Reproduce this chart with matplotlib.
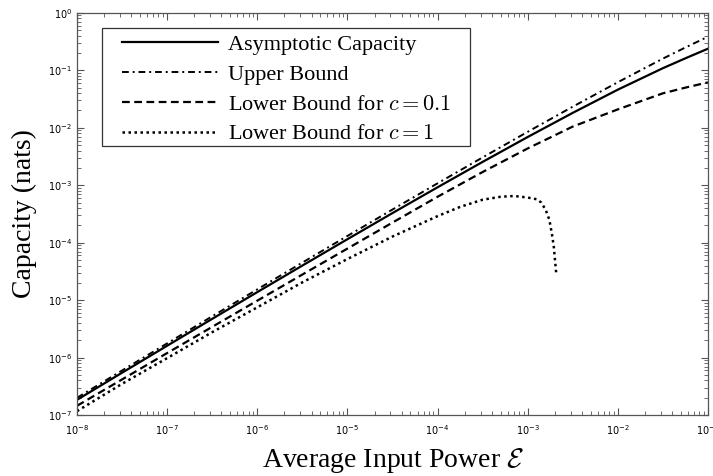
import numpy as np
import matplotlib
matplotlib.use("Agg")
import matplotlib.pyplot as plt
from matplotlib.patches import Rectangle
from matplotlib.ticker import LogLocator, NullFormatter

plt.rcParams["mathtext.fontset"] = "cm"

# average input power (x) and the curves
power = [1e-8, 10**-7.5, 1e-7, 10**-6.5, 1e-6, 10**-5.5, 1e-5, 10**-4.5,
         1e-4, 10**-3.5, 1e-3, 10**-2.5, 1e-2, 10**-1.5, 10**-1.25, 1e-1]
cap_asym = [1.84e-7, 5.46e-7, 1.61e-6, 4.73e-6, 1.38e-5, 4.00e-5, 1.15e-4, 3.28e-4,
            9.21e-4, 2.55e-3, 6.91e-3, 1.82e-2, 4.61e-2, 1.09e-1, 1.62e-1, 2.38e-1]
cap_upper = [2.00e-7, 5.97e-7, 1.77e-6, 5.24e-6, 1.54e-5, 4.51e-5, 1.31e-4, 3.78e-4,
             1.08e-3, 3.05e-3, 8.51e-3, 2.33e-2, 6.21e-2, 1.60e-1, 2.50e-1, 3.85e-1]
cap_low01 = [1.45e-7, 4.17e-7, 1.20e-6, 3.43e-6, 9.8e-6, 2.79e-5, 7.9e-5, 2.24e-4,
             6.3e-4, 1.70e-3, 4.37e-3, 1.05e-2, 2.09e-2, 3.98e-2, 5.00e-2, 6.17e-2]

power_c1 = [1e-8, 10**-7.5, 1e-7, 10**-6.5, 1e-6, 10**-5.5, 1e-5, 10**-4.5, 1e-4,
            10**-3.75, 10**-3.5, 10**-3.3, 10**-3.15, 1e-3, 10**-2.9, 10**-2.85,
            10**-2.8, 10**-2.76, 10**-2.73, 10**-2.71, 10**-2.695, 10**-2.684]
cap_low1 = [1.17e-7, 3.5e-7, 9.8e-7, 2.77e-6, 7.5e-6, 2.04e-5, 5.2e-5, 1.28e-4, 2.9e-4,
            4.2e-4, 5.6e-4, 6.3e-4, 6.5e-4, 6.1e-4, 5.7e-4, 5.0e-4,
            3.7e-4, 2.5e-4, 1.37e-4, 8.3e-5, 4.5e-5, 2.95e-5]

fig = plt.figure(figsize=(7.13, 4.76), dpi=100)
ax = fig.add_axes([0.108, 0.128, 0.885, 0.845])

ax.loglog(power, cap_asym, color="black", lw=1.6, label="Asymptotic Capacity")
ax.loglog(power, cap_upper, color="black", lw=1.4, linestyle=(0, (3.5, 2, 1, 2)),
          label="Upper Bound")
ax.loglog(power, cap_low01, color="black", lw=1.6, linestyle=(0, (3.5, 2)),
          label="Lower Bound for $c=0.1$")
ax.loglog(power_c1, cap_low1, color="black", lw=1.8, linestyle=(0, (1, 1.4)),
          label="Lower Bound for $c=1$")

ax.set_xlim(1e-8, 1e-1)
ax.set_ylim(1e-7, 1e0)

ax.xaxis.set_major_locator(LogLocator(base=10, numticks=20))
ax.yaxis.set_major_locator(LogLocator(base=10, numticks=20))
ax.xaxis.set_minor_locator(LogLocator(base=10, subs=np.arange(2, 10), numticks=20))
ax.yaxis.set_minor_locator(LogLocator(base=10, subs=np.arange(2, 10), numticks=20))
ax.xaxis.set_minor_formatter(NullFormatter())
ax.yaxis.set_minor_formatter(NullFormatter())
ax.tick_params(which="both", direction="in", top=True, right=True, color="#555555",
               labelsize=7, labelcolor="black")
ax.tick_params(which="major", length=5, width=0.8)
ax.tick_params(which="minor", length=3, width=0.6)
ax.tick_params(axis="x", pad=6)
for s in ax.spines.values():
    s.set_color("#555555")
    s.set_linewidth(0.9)

ax.set_xlabel(r"Average Input Power $\mathcal{E}$", fontsize=20,
              family="Liberation Serif", labelpad=6)
ax.set_ylabel("Capacity (nats)", fontsize=20, family="Liberation Serif", labelpad=8)

# legend without its own frame; the box is drawn separately
leg = ax.legend(loc="upper left", bbox_to_anchor=(0.0713, 0.947), frameon=False,
                prop={"family": "Liberation Serif", "size": 16},
                handlelength=4.3, labelspacing=0.42, borderpad=0,
                handletextpad=0.45, borderaxespad=0)
ax.add_patch(Rectangle((0.0396, 0.669), 0.5832, 0.2937, transform=ax.transAxes,
                       facecolor="white", edgecolor="#333333", lw=0.9, zorder=4))
leg.set_zorder(5)

fig.savefig("out.png", dpi=100)
